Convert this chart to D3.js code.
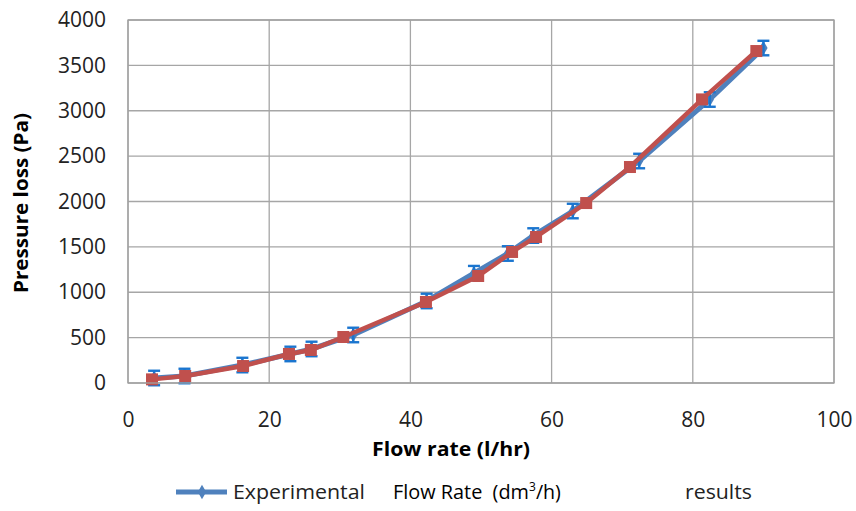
<!DOCTYPE html>
<html>
<head>
<meta charset="utf-8">
<script src="https://cdn.jsdelivr.net/npm/d3@7"></script>
<style>
  body { margin: 0; background: #fff; }
  svg { display: block; }
  .tick text { font-family: "Open Sans", sans-serif; font-size: 21px; fill: #222; }
</style>
</head>
<body>
<svg id="chart" width="856" height="511"></svg>
<script>
// experimental results (blue, with error bars)
const expFlow = [3.7, 8.0, 16.2, 23.0, 26.0, 31.9, 42.3, 49.0, 53.8, 57.4, 63.0, 72.4, 82.4, 90.0]
const expLoss = [55, 77, 198, 320, 375, 529, 904, 1210, 1427, 1625, 1895, 2446, 3124, 3691]
const expErr = [80, 80, 80, 80, 80, 80, 80, 80, 80, 80, 80, 80, 80, 80]
// second series (red squares)
const calcFlow = [3.4, 8.1, 16.3, 22.8, 25.9, 30.5, 42.2, 49.6, 54.4, 57.8, 64.9, 71.1, 81.3, 89.0]
const calcLoss = [40, 77, 187, 320, 364, 507, 893, 1179, 1444, 1609, 1983, 2380, 3125, 3658]
const xTicks = [0, 20, 40, 60, 80, 100]
const yTicks = [0, 500, 1000, 1500, 2000, 2500, 3000, 3500, 4000]

const svg = d3.select("#chart")
let pLeft = 128, pRight = 834, pTop = 20, pBottom = 383

let x = d3.scaleLinear().domain([0, 100]).range([pLeft, pRight])
let y = d3.scaleLinear().domain([0, 4000]).range([pBottom, pTop])

// gridlines
svg.append("g")
    .selectAll("line")
    .data(yTicks)
    .enter()
    .append("line")
    .attr("x1", pLeft).attr("x2", pRight)
    .attr("y1", d => y(d)).attr("y2", d => y(d))
    .attr("stroke", "#a6a6a6").attr("stroke-width", 1.3)
svg.append("g")
    .selectAll("line")
    .data(xTicks)
    .enter()
    .append("line")
    .attr("x1", d => x(d)).attr("x2", d => x(d))
    .attr("y1", pTop).attr("y2", pBottom)
    .attr("stroke", "#a6a6a6").attr("stroke-width", 1.3)

// axes (labels only)
let xAxis = svg.append("g")
    .attr("transform", `translate(0,${pBottom})`)
    .call(d3.axisBottom(x).tickValues(xTicks).tickFormat(d3.format("d")).tickSize(0).tickPadding(29))
xAxis.select(".domain").remove()

let yAxis = svg.append("g")
    .attr("transform", `translate(${pLeft},0)`)
    .call(d3.axisLeft(y).tickValues(yTicks).tickFormat(d3.format("d")).tickSize(0).tickPadding(22))
yAxis.select(".domain").remove()

// axis titles
svg.append("text")
    .attr("x", 451).attr("y", 456)
    .attr("text-anchor", "middle")
    .style("font-family", "'Open Sans', sans-serif")
    .style("font-weight", "bold").style("font-size", "20px")
    .attr("textLength", 158).attr("lengthAdjust", "spacingAndGlyphs")
    .text("Flow rate (l/hr)")
svg.append("text")
    .attr("transform", "translate(28,203) rotate(-90)")
    .attr("text-anchor", "middle")
    .style("font-family", "'Open Sans', sans-serif")
    .style("font-weight", "bold").style("font-size", "20px")
    .attr("textLength", 180).attr("lengthAdjust", "spacingAndGlyphs")
    .text("Pressure loss (Pa)")

let expData = expFlow.map((f, i) => ({ x: f, y: expLoss[i], e: expErr[i] }))
let calcData = calcFlow.map((f, i) => ({ x: f, y: calcLoss[i] }))

let line = d3.line().x(d => x(d.x)).y(d => y(d.y))

// blue series
svg.append("path")
    .datum(expData)
    .attr("d", line)
    .attr("fill", "none")
    .attr("stroke", "#4f81bd")
    .attr("stroke-width", 5)
svg.append("g")
    .selectAll("path")
    .data(expData)
    .enter()
    .append("path")
    .attr("d", d3.symbol().type(d3.symbolDiamond).size(60))
    .attr("transform", d => `translate(${x(d.x)},${y(d.y)})`)
    .attr("fill", "#4f81bd")

// error bars
let eb = svg.append("g").attr("stroke", "#1a75cf").attr("stroke-width", 2.4)
eb.append("g").selectAll("line")
    .data(expData)
    .enter()
    .append("line")
    .attr("x1", d => x(d.x)).attr("x2", d => x(d.x))
    .attr("y1", d => y(d.y - d.e)).attr("y2", d => y(d.y + d.e))
eb.append("g").selectAll("line")
    .data(expData)
    .enter()
    .append("line")
    .attr("x1", d => x(d.x) - 6).attr("x2", d => x(d.x) + 6)
    .attr("y1", d => y(d.y + d.e)).attr("y2", d => y(d.y + d.e))
eb.append("g").selectAll("line")
    .data(expData)
    .enter()
    .append("line")
    .attr("x1", d => x(d.x) - 6).attr("x2", d => x(d.x) + 6)
    .attr("y1", d => y(d.y - d.e)).attr("y2", d => y(d.y - d.e))

// red series
svg.append("path")
    .datum(calcData)
    .attr("d", line)
    .attr("fill", "none")
    .attr("stroke", "#c0504d")
    .attr("stroke-width", 4.5)
svg.append("g")
    .selectAll("rect")
    .data(calcData)
    .enter()
    .append("rect")
    .attr("x", d => x(d.x) - 6).attr("y", d => y(d.y) - 6)
    .attr("width", 12).attr("height", 12)
    .attr("fill", "#c0504d")

// plot border
svg.append("rect")
    .attr("x", pLeft).attr("y", pTop)
    .attr("width", pRight - pLeft).attr("height", pBottom - pTop)
    .attr("fill", "none")
    .attr("stroke", "#a0a0a0").attr("stroke-width", 1.3)

// legend
let lg = svg.append("g").attr("transform", "translate(0,492)")
lg.append("line")
    .attr("x1", 176).attr("x2", 227)
    .attr("stroke", "#4f81bd").attr("stroke-width", 5)
lg.append("path")
    .attr("d", d3.symbol().type(d3.symbolDiamond).size(60))
    .attr("transform", "translate(202,0)")
    .attr("fill", "#4f81bd")
let lgFont = "'Open Sans', sans-serif"
lg.append("text")
    .attr("x", 233).attr("y", 7)
    .style("font-family", lgFont).style("font-size", "20px").attr("fill", "#222")
    .attr("textLength", 132).attr("lengthAdjust", "spacingAndGlyphs")
    .text("Experimental")
let fr = lg.append("text")
    .attr("x", 393).attr("y", 7)
    .style("font-family", lgFont).style("font-size", "20px").attr("fill", "#000")
    .style("white-space", "pre")
fr.append("tspan").attr("textLength", 136).attr("lengthAdjust", "spacingAndGlyphs").text("Flow Rate  (dm")
fr.append("tspan").attr("dy", -8).style("font-size", "12px").text("3")
fr.append("tspan").attr("dy", 8).attr("textLength", 25).attr("lengthAdjust", "spacingAndGlyphs").text("/h)")
lg.append("text")
    .attr("x", 685).attr("y", 7)
    .style("font-family", lgFont).style("font-size", "20px").attr("fill", "#222")
    .attr("textLength", 67).attr("lengthAdjust", "spacingAndGlyphs")
    .text("results")
</script>
</body>
</html>
